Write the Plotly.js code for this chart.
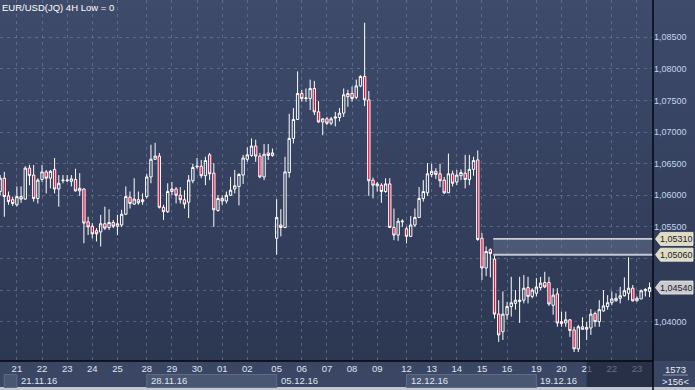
<!DOCTYPE html>
<html><head><meta charset="utf-8">
<script src="https://cdn.plot.ly/plotly-3.0.1.min.js"></script>
<style>
html,body{margin:0;padding:0;width:695px;height:390px;overflow:hidden;}
body{background:linear-gradient(to bottom,#3e4b6b 0px,#35415f 180px,#2c3752 361px,#3a4663 361px,#3a4663 387px,#c3c7cf 387px,#c3c7cf 390px);}
#chart{width:695px;height:390px;}
</style></head><body><div id="chart"></div>
<script>
// EUR/USD 4H candles, Fri 18.11.16 12:00 ... Fri 23.12.16
const openP = [1.0606,1.0627,1.0599,1.0593,1.0585,1.0598,1.0594,1.0643,1.0632,1.0595,
1.0625,1.0637,1.0627,1.0641,1.0610,1.0623,1.0623,1.0622,1.0625,1.0607,
1.0610,1.0558,1.0551,1.0544,1.0542,1.0555,1.0549,1.0557,1.0551,1.0553,
1.0570,1.0597,1.0586,1.0593,1.0590,1.0598,1.0629,1.0657,1.0662,1.0581,
1.0574,1.0606,1.0610,1.0600,1.0593,1.0589,1.0623,1.0645,1.0646,1.0631,
1.0664,1.0635,1.0576,1.0595,1.0591,1.0600,1.0610,1.0614,1.0632,1.0657,
1.0663,1.0678,1.0662,1.0629,1.0667,1.0663,1.0532,1.0553,1.0549,1.0636,
1.0690,1.0720,1.0761,1.0753,1.0753,1.0769,1.0732,1.0716,1.0721,1.0714,
1.0722,1.0723,1.0730,1.0756,1.0761,1.0755,1.0773,1.0788,1.0751,1.0624,
1.0615,1.0616,1.0606,1.0618,1.0549,1.0537,1.0558,1.0547,1.0535,1.0553,
1.0565,1.0595,1.0604,1.0633,1.0638,1.0634,1.0624,1.0604,1.0634,1.0621,
1.0631,1.0635,1.0625,1.0641,1.0656,1.0532,1.0485,1.0514,1.0499,1.0412,
1.0384,1.0411,1.0424,1.0429,1.0432,1.0434,1.0454,1.0440,1.0445,1.0454,
1.0462,1.0462,1.0426,1.0444,1.0400,1.0398,1.0403,1.0387,1.0357,1.0392,
1.0388,1.0390,1.0413,1.0400,1.0417,1.0424,1.0430,1.0433,1.0437,1.0441,
1.0445,1.0453,1.0433,1.0436,1.0449,1.0448];
const highP = [1.0632,1.0637,1.0606,1.0598,1.0614,1.0614,1.0646,1.0648,1.0648,1.0627,
1.0648,1.0640,1.0640,1.0659,1.0632,1.0632,1.0632,1.0632,1.0642,1.0635,
1.0611,1.0566,1.0556,1.0548,1.0569,1.0582,1.0578,1.0561,1.0569,1.0577,
1.0614,1.0606,1.0627,1.0606,1.0603,1.0634,1.0680,1.0683,1.0667,1.0585,
1.0619,1.0621,1.0613,1.0613,1.0608,1.0632,1.0650,1.0659,1.0656,1.0661,
1.0667,1.0651,1.0600,1.0600,1.0606,1.0629,1.0640,1.0635,1.0664,1.0676,
1.0690,1.0688,1.0667,1.0681,1.0681,1.0674,1.0594,1.0578,1.0661,1.0729,
1.0738,1.0796,1.0767,1.0769,1.0783,1.0781,1.0749,1.0722,1.0724,1.0724,
1.0732,1.0738,1.0769,1.0767,1.0772,1.0783,1.0790,1.0873,1.0765,1.0628,
1.0621,1.0619,1.0627,1.0627,1.0579,1.0564,1.0562,1.0550,1.0567,1.0579,
1.0613,1.0624,1.0651,1.0650,1.0643,1.0650,1.0629,1.0666,1.0639,1.0640,
1.0641,1.0664,1.0664,1.0661,1.0671,1.0540,1.0519,1.0516,1.0506,1.0434,
1.0448,1.0431,1.0471,1.0450,1.0471,1.0474,1.0471,1.0453,1.0469,1.0471,
1.0479,1.0471,1.0453,1.0453,1.0416,1.0416,1.0404,1.0392,1.0395,1.0407,
1.0400,1.0420,1.0416,1.0434,1.0450,1.0442,1.0448,1.0445,1.0455,1.0470,
1.0502,1.0458,1.0440,1.0451,1.0453,1.0462];
const lowP = [1.0600,1.0566,1.0585,1.0583,1.0582,1.0588,1.0593,1.0616,1.0590,1.0587,
1.0621,1.0603,1.0611,1.0603,1.0582,1.0619,1.0621,1.0614,1.0606,1.0599,
1.0524,1.0537,1.0532,1.0527,1.0519,1.0545,1.0545,1.0548,1.0537,1.0550,
1.0569,1.0579,1.0585,1.0585,1.0585,1.0595,1.0619,1.0656,1.0579,1.0561,
1.0572,1.0600,1.0587,1.0587,1.0579,1.0564,1.0619,1.0642,1.0627,1.0616,
1.0624,1.0550,1.0574,1.0585,1.0587,1.0599,1.0603,1.0584,1.0618,1.0653,
1.0661,1.0653,1.0627,1.0624,1.0656,1.0661,1.0506,1.0535,1.0548,1.0628,
1.0682,1.0719,1.0748,1.0748,1.0735,1.0727,1.0715,1.0695,1.0711,1.0711,
1.0709,1.0717,1.0724,1.0740,1.0748,1.0752,1.0771,1.0741,1.0599,1.0595,
1.0606,1.0588,1.0604,1.0548,1.0529,1.0528,1.0550,1.0524,1.0534,1.0550,
1.0564,1.0590,1.0599,1.0629,1.0626,1.0613,1.0602,1.0604,1.0614,1.0616,
1.0624,1.0611,1.0616,1.0631,1.0528,1.0466,1.0472,1.0470,1.0405,1.0368,
1.0371,1.0403,1.0408,1.0419,1.0398,1.0429,1.0429,1.0437,1.0440,1.0450,
1.0453,1.0425,1.0411,1.0392,1.0392,1.0392,1.0376,1.0352,1.0352,1.0387,
1.0371,1.0379,1.0392,1.0392,1.0416,1.0419,1.0426,1.0432,1.0429,1.0440,
1.0434,1.0432,1.0432,1.0436,1.0440,1.0439];
const closeP = [1.0627,1.0598,1.0590,1.0587,1.0598,1.0594,1.0643,1.0631,1.0595,1.0624,
1.0637,1.0627,1.0638,1.0610,1.0619,1.0624,1.0624,1.0626,1.0607,1.0611,
1.0556,1.0550,1.0539,1.0539,1.0555,1.0548,1.0557,1.0551,1.0555,1.0570,
1.0598,1.0587,1.0594,1.0588,1.0593,1.0629,1.0657,1.0662,1.0581,1.0574,
1.0606,1.0610,1.0600,1.0593,1.0586,1.0624,1.0644,1.0646,1.0631,1.0655,
1.0634,1.0577,1.0595,1.0591,1.0600,1.0608,1.0615,1.0633,1.0659,1.0664,
1.0678,1.0662,1.0629,1.0665,1.0663,1.0667,1.0565,1.0549,1.0637,1.0690,
1.0720,1.0761,1.0753,1.0754,1.0769,1.0732,1.0716,1.0721,1.0714,1.0721,
1.0724,1.0730,1.0759,1.0761,1.0753,1.0773,1.0788,1.0751,1.0623,1.0616,
1.0618,1.0606,1.0618,1.0549,1.0537,1.0559,1.0559,1.0535,1.0553,1.0565,
1.0595,1.0606,1.0634,1.0638,1.0633,1.0623,1.0604,1.0634,1.0619,1.0632,
1.0636,1.0625,1.0641,1.0655,1.0530,1.0485,1.0511,1.0508,1.0412,1.0379,
1.0412,1.0424,1.0430,1.0434,1.0434,1.0453,1.0440,1.0450,1.0455,1.0461,
1.0455,1.0428,1.0442,1.0398,1.0397,1.0403,1.0386,1.0357,1.0392,1.0388,
1.0391,1.0412,1.0400,1.0419,1.0425,1.0430,1.0436,1.0437,1.0441,1.0449,
1.0453,1.0433,1.0437,1.0449,1.0451,1.0454];

// day ticks (index of first 4H bar of each day)
const dayIdx = [4,10,16,22,28,35,41,47,53,59,66,72,78,84,90,97,103,109,115,121,128,134,140,146,152];
const dayLabels = ['21','22','23','24','25','28','29','30','01','02','05','06','07','08','09','12','13','14','15','16','19','20','21','22','23'];
const weekIdx = [4,35,66,97,128];
const weekLabels = ['21.11.16','28.11.16','05.12.16','12.12.16','19.12.16'];
const yTicks = [1.040,1.045,1.050,1.055,1.060,1.065,1.070,1.075,1.080,1.085];
const zoneLevels = [1.0531, 1.0506];
const zoneStart = 117.7;
const shadeStart = 140;
const totalBars = '1573';
const titleText = 'EUR/USD(JQ) 4H Low = 0';

const idx = openP.map((_, i) => i);
const xr = [-0.03, 155.83];
const yr = [1.03378, 1.09090];
const W = 695, H = 390, mr = 42, mb = 29;
const PW = W - mr, PH = H - mb;
const xp = v => (v - xr[0]) / (xr[1] - xr[0]);
const yp = v => (v - yr[0]) / (yr[1] - yr[0]);
const pyp = px => -(px - PH) / PH; // pixel row -> paper y
const fmt = v => v.toFixed(5).replace('.', ',');
const FONT = 'Liberation Sans, Arial, sans-serif';
const lastClose = closeP[closeP.length - 1];
const tagLevels = [zoneLevels[0], zoneLevels[1], lastClose];
// tick labels hidden where a price tag covers them
const pxPerUnit = PH / (yr[1] - yr[0]);
const yTickText = yTicks.map(v => tagLevels.some(t => Math.abs(t - v) * pxPerUnit < 12) ? '' : fmt(v));

const shapes = [];
const annotations = [];

// resistance zone
shapes.push({type:'rect', xref:'x', yref:'y', x0:zoneStart, x1:xr[1]+5, y0:zoneLevels[1], y1:zoneLevels[0],
  fillcolor:'rgba(140,152,178,0.30)', line:{width:0}, layer:'below'});
shapes.push({type:'line', xref:'x', yref:'y', x0:zoneStart, x1:xr[1]+5, y0:zoneLevels[0], y1:zoneLevels[0],
  line:{color:'#ffffff', width:1.2}});
shapes.push({type:'line', xref:'x', yref:'y', x0:zoneStart, x1:xr[1]+5, y0:zoneLevels[1], y1:zoneLevels[1],
  line:{color:'#c4c8d2', width:2}});

// week boxes in bottom band (alternate weeks)
const boxes = [[1,4],[35,66],[97,128]];
boxes.forEach(b => shapes.push({type:'rect', xref:'paper', yref:'paper', x0:xp(b[0]), x1:xp(b[1]),
  y0:pyp(374.5), y1:pyp(387.5), fillcolor:'#4a5773', line:{color:'#5e6b87', width:1}}));

// week labels
weekIdx.forEach((w, k) => annotations.push({xref:'x', yref:'paper', x:w, y:pyp(381), xanchor:'left', yanchor:'middle',
  xshift:2, text:weekLabels[k], showarrow:false, font:{family:FONT, size:9.5, color:'#dfe5f0'}}));

// dark shade over bottom band at the end
shapes.push({type:'rect', xref:'paper', yref:'paper', x0:xp(shadeStart), x1:1, y0:0, y1:pyp(387),
  fillcolor:'rgba(28,35,55,0.62)', line:{width:0}, layer:'above'});

// axis lines
shapes.push({type:'line', xref:'paper', yref:'paper', x0:0, x1:1, y0:0, y1:0, line:{color:'#05070c', width:1.5}, layer:'above'});
shapes.push({type:'line', xref:'paper', yref:'paper', x0:1, x1:1, y0:1, y1:pyp(390), line:{color:'#05070c', width:1.5}, layer:'above'});

// price tags
const tagColors = ['#e0dcc2', '#e0dcc2', '#c9cbce'];
tagLevels.forEach((v, k) => {
  shapes.push({type:'path', xref:'paper', yref:'paper', xsizemode:'pixel', ysizemode:'pixel', xanchor:1, yanchor:yp(v),
    path:'M2.5,0 L7.5,6.5 L40,6.5 L40,-6.5 L7.5,-6.5 Z', fillcolor:tagColors[k], line:{color:'#f4f2e8', width:0.8}, layer:'above'});
  annotations.push({xref:'paper', yref:'y', x:1, y:v, xanchor:'center', yanchor:'middle', xshift:23.5,
    text:fmt(v), showarrow:false, font:{family:FONT, size:9, color:'#1b2130'}});
});

// bar counters bottom right
annotations.push({xref:'paper', yref:'paper', x:1, y:pyp(369), xanchor:'center', yanchor:'middle', xshift:22,
  text:totalBars, showarrow:false, font:{family:FONT, size:9.5, color:'#e6ebf4'}});
annotations.push({xref:'paper', yref:'paper', x:1, y:pyp(381.5), xanchor:'center', yanchor:'middle', xshift:22,
  text:'&gt;' + openP.length + '&lt;', showarrow:false, font:{family:FONT, size:9.5, color:'#e6ebf4'}});
shapes.push({type:'line', xref:'paper', yref:'paper', x0:1 + 10/PW, x1:1 + 35/PW, y0:pyp(375), y1:pyp(375),
  line:{color:'#8c97ad', width:1}});

const trace = {
  type:'candlestick', x:idx, open:openP, high:highP, low:lowP, close:closeP,
  increasing:{line:{color:'#ffffff', width:1}, fillcolor:'rgba(0,0,0,0)'},
  decreasing:{line:{color:'#ffffff', width:1}, fillcolor:'#e8103c'},
  whiskerwidth:0, hoverinfo:'skip'
};

const gridc = 'rgba(120,136,168,0.55)';
const layout = {
  width:W, height:H,
  margin:{l:0, r:mr, t:0, b:mb, pad:0},
  paper_bgcolor:'rgba(0,0,0,0)', plot_bgcolor:'rgba(0,0,0,0)',
  separators:',.',
  showlegend:false,
  boxgap:0.2,
  title:{text:titleText, font:{family:FONT, size:9.5, color:'#ffffff'}, x:2/W, xanchor:'left', xref:'container',
    y:1 - 8/H, yref:'container', yanchor:'middle'},
  xaxis:{range:xr, tickmode:'array', tickvals:dayIdx, ticktext:dayLabels, showgrid:true, gridcolor:gridc,
    griddash:'3px,4px', gridwidth:1, zeroline:false, showline:false, ticks:'', rangeslider:{visible:false},
    tickfont:{family:FONT, size:9.5, color:'#dfe5f0'}, fixedrange:true},
  yaxis:{range:yr, side:'right', tickmode:'array', tickvals:yTicks, ticktext:yTickText, showgrid:true, gridcolor:gridc,
    griddash:'3px,4px', gridwidth:1, zeroline:false, showline:false, ticks:'',
    tickfont:{family:FONT, size:9, color:'#c2d5ef'}, fixedrange:true},
  shapes:shapes, annotations:annotations
};

Plotly.newPlot('chart', [trace], layout, {staticPlot:true, displayModeBar:false});
</script></body></html>
